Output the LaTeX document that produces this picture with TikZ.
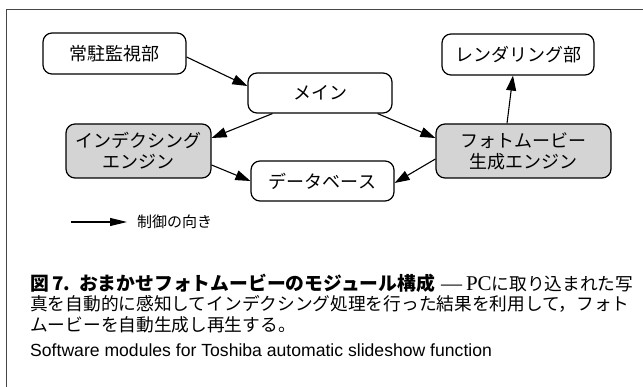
\documentclass[tikz,border=0pt]{standalone}
\usepackage{fontspec}
\setmainfont{Liberation Sans}
\newfontfamily\cjk{Noto Sans CJK JP}
\newfontfamily\serifrm{Liberation Serif}
\usetikzlibrary{arrows.meta,calc}
\definecolor{boxgray}{RGB}{212,212,212}
\definecolor{framegray}{RGB}{70,70,70}
\tikzset{
  box/.style={draw, line width=1.2pt, rounded corners=9pt, inner sep=0pt, align=center,
    font=\cjk\fontsize{18}{21}\selectfont},
  gbox/.style={box, fill=boxgray},
  arr/.style={line width=1.1pt, -{Triangle[length=15pt,width=10pt]}},
  frameline/.style={draw=framegray, line width=0.9pt},
  captext/.style={anchor=west, inner sep=0pt, font=\cjk\fontsize{17.7}{21}\selectfont},
}
\begin{document}
\begin{tikzpicture}[x=1pt,y=-1pt]
\useasboundingbox (0,0) rectangle (643,387);
\coordinate (f1) at (6,387);
\coordinate (f2) at (6,9);
\coordinate (f3) at (643,9);
\draw[frameline] (f1) -- (f2) -- (f3);

\node[box, minimum width=143pt, minimum height=41pt] (jochu) at (114.5,53.5) {常駐監視部};
\node[box, minimum width=144pt, minimum height=40pt] (main) at (320,93) {メイン};
\node[box, minimum width=152pt, minimum height=41pt] (render) at (518,54.5) {レンダリング部};
\node[gbox, minimum width=145pt, minimum height=54pt] (index) at (138.5,151) {インデクシング\\エンジン};
\node[gbox, minimum width=175pt, minimum height=54pt] (photo) at (523.5,151) {フォトムービー\\生成エンジン};
\node[box, minimum width=143pt, minimum height=40pt] (db) at (322.5,181) {データベース};

\draw[arr] ([yshift=-3.5pt]jochu.east) -- ([yshift=7pt]main.west);
\draw[arr] ([xshift=25pt]main.south west) -- ([yshift=13pt]index.east);
\draw[arr] ([xshift=-15pt]main.south east) -- ([yshift=13pt]photo.west);
\draw[arr] ([yshift=-14pt]index.east) -- (db.west);
\draw[arr] ([yshift=-8pt]photo.west) -- ([yshift=-2pt]db.east);
\draw[arr] ([xshift=-16.5pt]photo.north) -- ([xshift=-5pt]render.south);

\coordinate (l1) at (71,222);
\coordinate (l2) at (127,222);
\draw[line width=1.1pt, -{Triangle[length=17pt,width=8pt]}] (l1) -- (l2);
\node[anchor=west, inner sep=0pt, font=\cjk\fontsize{15}{18}\selectfont] (leg) at (137,222) {制御の向き};

\node[captext] (c1) at (30,283) {{\bfseries\fontsize{18.8}{21}\selectfont 図\,7.\hspace{9pt}おまかせフォトムービーのモジュール構成}\hspace{6pt}{\serifrm\fontsize{21}{21}\selectfont —\hspace{4pt}PC}に取り込まれた写};
\node[captext] (c2) at (30,304) {真を自動的に感知してインデクシング処理を行った結果を利用して，フォト};
\node[captext] (c3) at (30,325) {ムービーを自動生成し再生する。};
\node[anchor=west, inner sep=0pt, font=\fontsize{17.6}{20}\selectfont] (en) at (30,350) {Software modules for Toshiba automatic slideshow function};
\end{tikzpicture}
\end{document}
